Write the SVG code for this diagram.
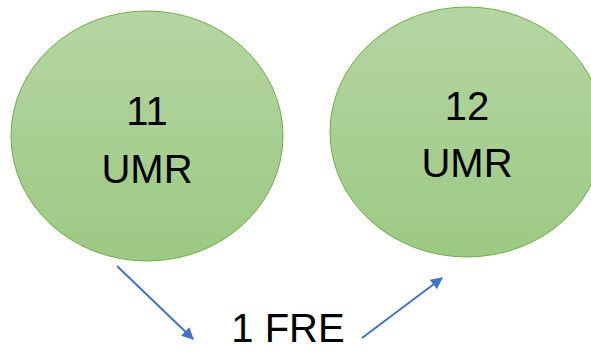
<svg xmlns="http://www.w3.org/2000/svg" width="591" height="351" viewBox="0 0 591 351">
  <style>
    .node { stroke: #70AD47; stroke-width: 1; fill: url(#greenFill); }
    .label { font-family: "Liberation Sans", Arial, sans-serif; font-size: 40px; fill: #000; text-anchor: middle; }
    .link { stroke: #4472C4; stroke-width: 2; fill: none; marker-end: url(#arrow); }
  </style>
  <defs>
    <linearGradient id="greenFill" x1="0" y1="0" x2="0" y2="1">
      <stop offset="0" stop-color="#B5D6A3"/>
      <stop offset="1" stop-color="#9CC983"/>
    </linearGradient>
    <marker id="arrow" viewBox="0 0 10 10" refX="9" refY="5" markerWidth="7" markerHeight="6" markerUnits="strokeWidth" orient="auto">
      <path d="M0,0 L10,5 L0,10 Z" fill="#4472C4"/>
    </marker>
  </defs>
  <rect width="591" height="351" fill="#FFFFFF"/>

  <g id="umr11">
    <ellipse class="node" cx="147" cy="136" rx="136" ry="125"/>
    <text class="label" x="147" y="125">11</text>
    <text class="label" x="147" y="183">UMR</text>
  </g>

  <g id="umr12">
    <ellipse class="node" cx="467" cy="132" rx="137" ry="125"/>
    <text class="label" x="467" y="120">12</text>
    <text class="label" x="467" y="177">UMR</text>
  </g>

  <g id="fre1">
    <text class="label" x="288" y="342">1 FRE</text>
  </g>

  <g id="connectors">
    <line class="link" x1="117" y1="266" x2="193" y2="339"/>
    <line class="link" x1="362" y1="338" x2="442" y2="278"/>
  </g>
</svg>
